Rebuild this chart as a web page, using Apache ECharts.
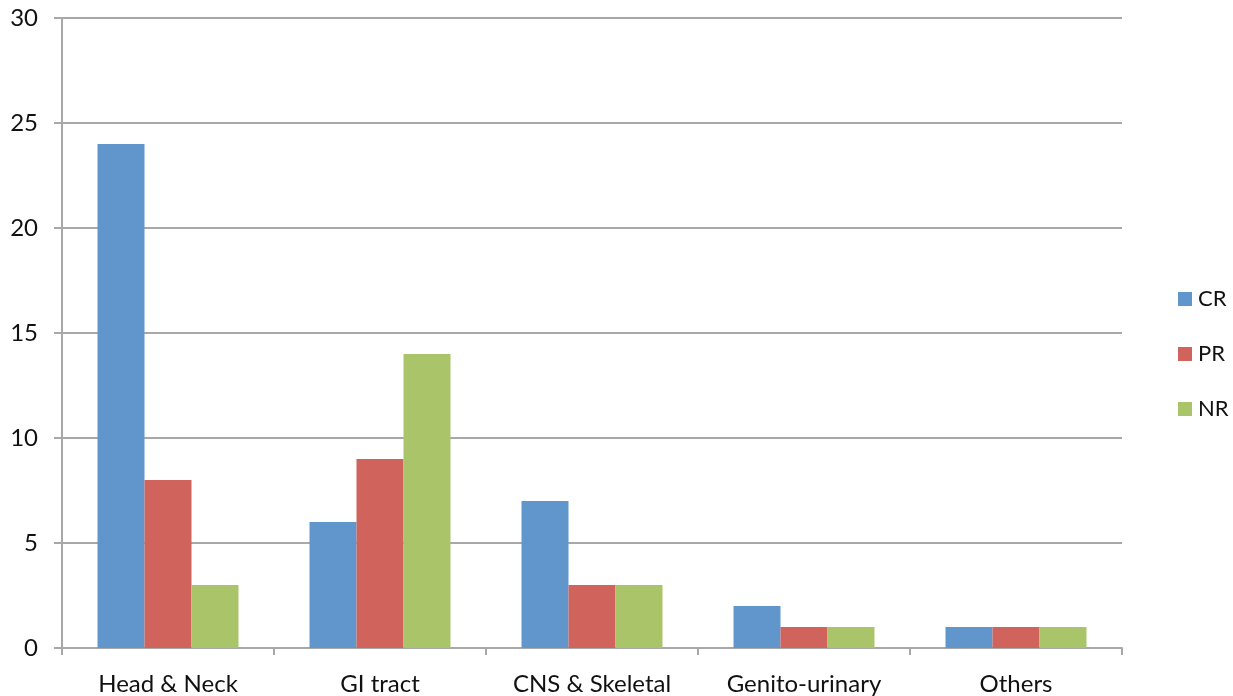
<!DOCTYPE html>
<html>
<head>
<meta charset="utf-8">
<script src="https://cdn.jsdelivr.net/npm/echarts@6/dist/echarts.min.js"></script>
<style>
  html, body { margin: 0; padding: 0; background: #ffffff; }
  #chart { width: 1233px; height: 696px; }
</style>
</head>
<body>
<div id="chart"></div>
<script>
// Response by tumour site
const categories = ['Head & Neck', 'GI tract', 'CNS & Skeletal', 'Genito-urinary', 'Others'];
const crValues = [24, 6, 7, 2, 1];
const prValues = [8, 9, 3, 1, 1];
const nrValues = [3, 14, 3, 1, 1];
const seriesNames = ['CR', 'PR', 'NR'];
const seriesColors = ['#6096cc', '#d0635c', '#aac46a'];

const FONT = 'Lato, "Open Sans", sans-serif';
const AXIS_GREY = '#a8a8a8';

const chart = echarts.init(document.getElementById('chart'), null, { renderer: 'canvas' });

chart.setOption({
  animation: false,
  backgroundColor: '#ffffff',
  textStyle: { fontFamily: FONT },
  grid: { left: 62, right: 111, top: 18, bottom: 47, containLabel: false },
  legend: {
    orient: 'vertical',
    left: 1173,
    top: 283,
    itemWidth: 14,
    itemHeight: 14,
    itemGap: 33,
    icon: 'rect',
    textStyle: { fontSize: 22, color: '#111', fontFamily: FONT, padding: [0, 0, 0, 1] },
    data: seriesNames
  },
  xAxis: {
    type: 'category',
    data: categories,
    axisLine: { show: true, lineStyle: { color: AXIS_GREY, width: 2 } },
    axisTick: { show: true, alignWithLabel: false, length: 7, lineStyle: { color: AXIS_GREY, width: 2 } },
    axisLabel: { fontSize: 24, color: '#111', margin: 24, fontFamily: FONT }
  },
  yAxis: {
    type: 'value',
    min: 0,
    max: 30,
    interval: 5,
    axisLine: { show: true, lineStyle: { color: AXIS_GREY, width: 2 } },
    axisTick: { show: true, length: 8, lineStyle: { color: AXIS_GREY, width: 2 } },
    splitLine: { show: true, lineStyle: { color: AXIS_GREY, width: 2 } },
    axisLabel: { fontSize: 24, color: '#111', margin: 24, fontFamily: FONT }
  },
  series: [
    { name: seriesNames[0], type: 'bar', data: crValues, itemStyle: { color: seriesColors[0] }, barGap: '0%', barCategoryGap: '33.5%' },
    { name: seriesNames[1], type: 'bar', data: prValues, itemStyle: { color: seriesColors[1] }, barGap: '0%', barCategoryGap: '33.5%' },
    { name: seriesNames[2], type: 'bar', data: nrValues, itemStyle: { color: seriesColors[2] }, barGap: '0%', barCategoryGap: '33.5%' }
  ]
});
</script>
</body>
</html>
